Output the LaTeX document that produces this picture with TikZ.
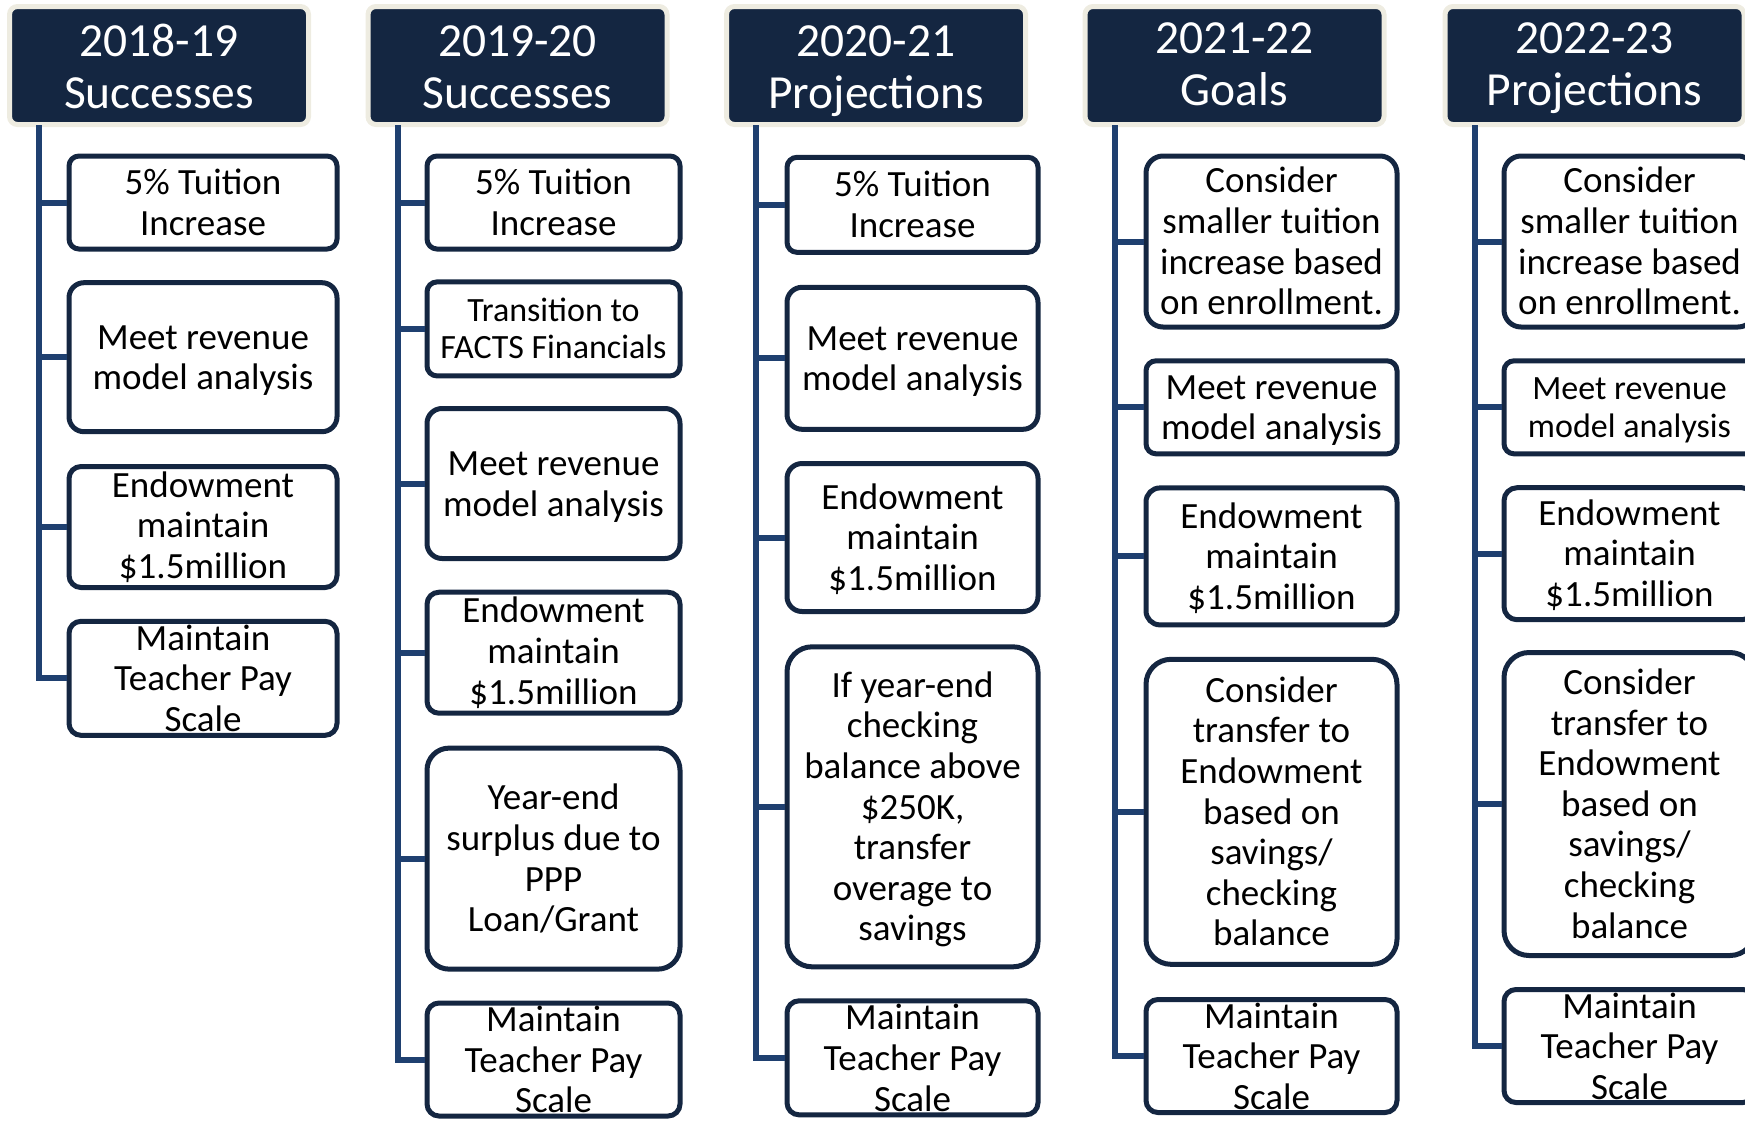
\documentclass[tikz,border=0pt]{standalone}
\usepackage{fontspec}
\setmainfont{Carlito}
\definecolor{navy}{RGB}{20,38,65}
\definecolor{hbeige}{RGB}{238,236,225}
\definecolor{connc}{RGB}{31,64,112}
\newcommand\tstr{\rule{0pt}{0.93em}}
\newcommand\bstr{\rule[-0.27em]{0pt}{0.27em}}
\newcommand\htopA{\rule{0pt}{45pt}}
\newcommand\htopB{\rule{0pt}{40pt}}
\newcommand\hbot{\rule[-12pt]{0pt}{12pt}}
\tikzset{
  hdr/.style={draw=hbeige, line width=5pt, fill=navy, rounded corners=8pt, text=white,
    font=\fontsize{47.5}{52}\selectfont, align=center, inner sep=0pt,
    minimum width=299pt, minimum height=118pt},
  itembox/.style={draw=navy, line width=5pt, fill=white, rounded corners=#1, align=center,
    inner sep=0pt, font=\fontsize{37}{40.6}\selectfont},
  itembox/.default=10pt,
  smalltext/.style={font=\fontsize{34}{37.5}\selectfont},
  conn/.style={draw=connc, line width=6pt}
}
\begin{document}
\begin{tikzpicture}[x=1pt,y=-1pt]
\useasboundingbox (0,0) rectangle (1745,1120);
\clip (0,0) rectangle (1745,1120);
% ---------- column 1 ----------
\node[hdr] (h1) at (159,65.5) {\htopA 2018-19\\Successes\hbot};
\coordinate (v1) at (39,125);
\node[itembox=10pt, minimum width=268pt, minimum height=93pt] (c1b1) at (203,202.5) {\tstr 5\% Tuition\\Increase\bstr};
\node[itembox=15pt, minimum width=268pt, minimum height=149pt] (c1b2) at (203,357.2) {\tstr Meet revenue\\model analysis\bstr};
\node[itembox=12pt, minimum width=268pt, minimum height=121pt] (c1b3) at (203,527) {Endowment\\maintain\\\$1.5million};
\node[itembox=12pt, minimum width=268pt, minimum height=114pt] (c1b4) at (203,678.3) {Maintain\\Teacher Pay\\Scale};
% ---------- column 2 ----------
\node[hdr] (h2) at (517.5,65.5) {\htopA 2019-20\\Successes\hbot};
\coordinate (v2) at (397.5,125);
\node[itembox=10pt, minimum width=253pt, minimum height=93pt] (c2b1) at (553.5,202.5) {\tstr 5\% Tuition\\Increase\bstr};
\node[itembox=10pt, smalltext, minimum width=253pt, minimum height=94pt] (c2b2) at (553.5,328.9) {\tstr Transition to\\FACTS Financials\bstr};
\node[itembox=15pt, minimum width=253pt, minimum height=150pt] (c2b3) at (553.5,483.5) {\tstr Meet revenue\\model analysis\bstr};
\node[itembox=12pt, minimum width=253pt, minimum height=121pt] (c2b4) at (553.5,652.7) {Endowment\\maintain\\\$1.5million};
\node[itembox=22pt, minimum width=253pt, minimum height=221pt] (c2b5) at (553.5,858.6) {\tstr Year-end\\surplus due to\\PPP\\Loan/Grant\bstr};
\node[itembox=12pt, minimum width=253pt, minimum height=113pt] (c2b6) at (553.5,1059.5) {Maintain\\Teacher Pay\\Scale};
% ---------- column 3 ----------
\node[hdr] (h3) at (876,65.5) {\htopA 2020-21\\Projections\hbot};
\coordinate (v3) at (756,125);
\node[itembox=10pt, minimum width=251pt, minimum height=95pt] (c3b1) at (912.5,204.8) {\tstr 5\% Tuition\\Increase\bstr};
\node[itembox=15pt, minimum width=251pt, minimum height=142pt] (c3b2) at (912.5,358.3) {\tstr Meet revenue\\model analysis\bstr};
\node[itembox=15pt, minimum width=251pt, minimum height=148pt] (c3b3) at (912.5,537.5) {\tstr Endowment\\maintain\\\$1.5million\bstr};
\node[itembox=25pt, minimum width=251pt, minimum height=320pt] (c3b4) at (912.5,806.8) {\tstr If year-end\\checking\\balance above\\\$250K,\\transfer\\overage to\\savings\bstr};
\node[itembox=12pt, minimum width=251pt, minimum height=114pt] (c3b5) at (912.5,1057.8) {Maintain\\Teacher Pay\\Scale};
% ---------- column 4 ----------
\node[hdr] (h4) at (1234.5,65.5) {\htopB 2021-22\\Goals\hbot};
\coordinate (v4) at (1114.5,125);
\node[itembox=17pt, minimum width=251pt, minimum height=171pt] (c4b1) at (1271.5,241.5) {\tstr Consider\\smaller tuition\\increase based\\on enrollment.\bstr};
\node[itembox=10pt, minimum width=251pt, minimum height=93pt] (c4b2) at (1271.5,407.3) {\tstr Meet revenue\\model analysis\bstr};
\node[itembox=14pt, minimum width=251pt, minimum height=137pt] (c4b3) at (1271.5,556.4) {\tstr Endowment\\maintain\\\$1.5million\bstr};
\node[itembox=25pt, minimum width=251pt, minimum height=305pt] (c4b4) at (1271.5,811.8) {\tstr Consider\\transfer to\\Endowment\\based on\\savings/\\checking\\balance\bstr};
\node[itembox=12pt, minimum width=251pt, minimum height=113pt] (c4b5) at (1271.5,1056) {Maintain\\Teacher Pay\\Scale};
% ---------- column 5 ----------
\node[hdr] (h5) at (1594.5,65.5) {\htopB 2022-23\\Projections\hbot};
\coordinate (v5) at (1474.5,125);
\node[itembox=17pt, minimum width=251pt, minimum height=171pt] (c5b1) at (1629.5,241.5) {\tstr Consider\\smaller tuition\\increase based\\on enrollment.\bstr};
\node[itembox=10pt, smalltext, minimum width=251pt, minimum height=93pt] (c5b2) at (1629.5,407.3) {\tstr Meet revenue\\model analysis\bstr};
\node[itembox=13pt, minimum width=251pt, minimum height=132pt] (c5b3) at (1629.5,553.7) {\tstr Endowment\\maintain\\\$1.5million\bstr};
\node[itembox=25pt, minimum width=251pt, minimum height=303pt] (c5b4) at (1629.5,804) {\tstr Consider\\transfer to\\Endowment\\based on\\savings/\\checking\\balance\bstr};
\node[itembox=12pt, minimum width=251pt, minimum height=113pt] (c5b5) at (1629.5,1046) {Maintain\\Teacher Pay\\Scale};
% ---------- connectors ----------
\draw[conn] (v1) |- (c1b4.west);
\foreach \b in {1,2,3} {\draw[conn] (v1 |- c1b\b.west) -- (c1b\b.west);}
\draw[conn] (v2) |- (c2b6.west);
\foreach \b in {1,...,5} {\draw[conn] (v2 |- c2b\b.west) -- (c2b\b.west);}
\draw[conn] (v3) |- (c3b5.west);
\foreach \b in {1,...,4} {\draw[conn] (v3 |- c3b\b.west) -- (c3b\b.west);}
\draw[conn] (v4) |- (c4b5.west);
\foreach \b in {1,...,4} {\draw[conn] (v4 |- c4b\b.west) -- (c4b\b.west);}
\draw[conn] (v5) |- (c5b5.west);
\foreach \b in {1,...,4} {\draw[conn] (v5 |- c5b\b.west) -- (c5b\b.west);}
\end{tikzpicture}
\end{document}
